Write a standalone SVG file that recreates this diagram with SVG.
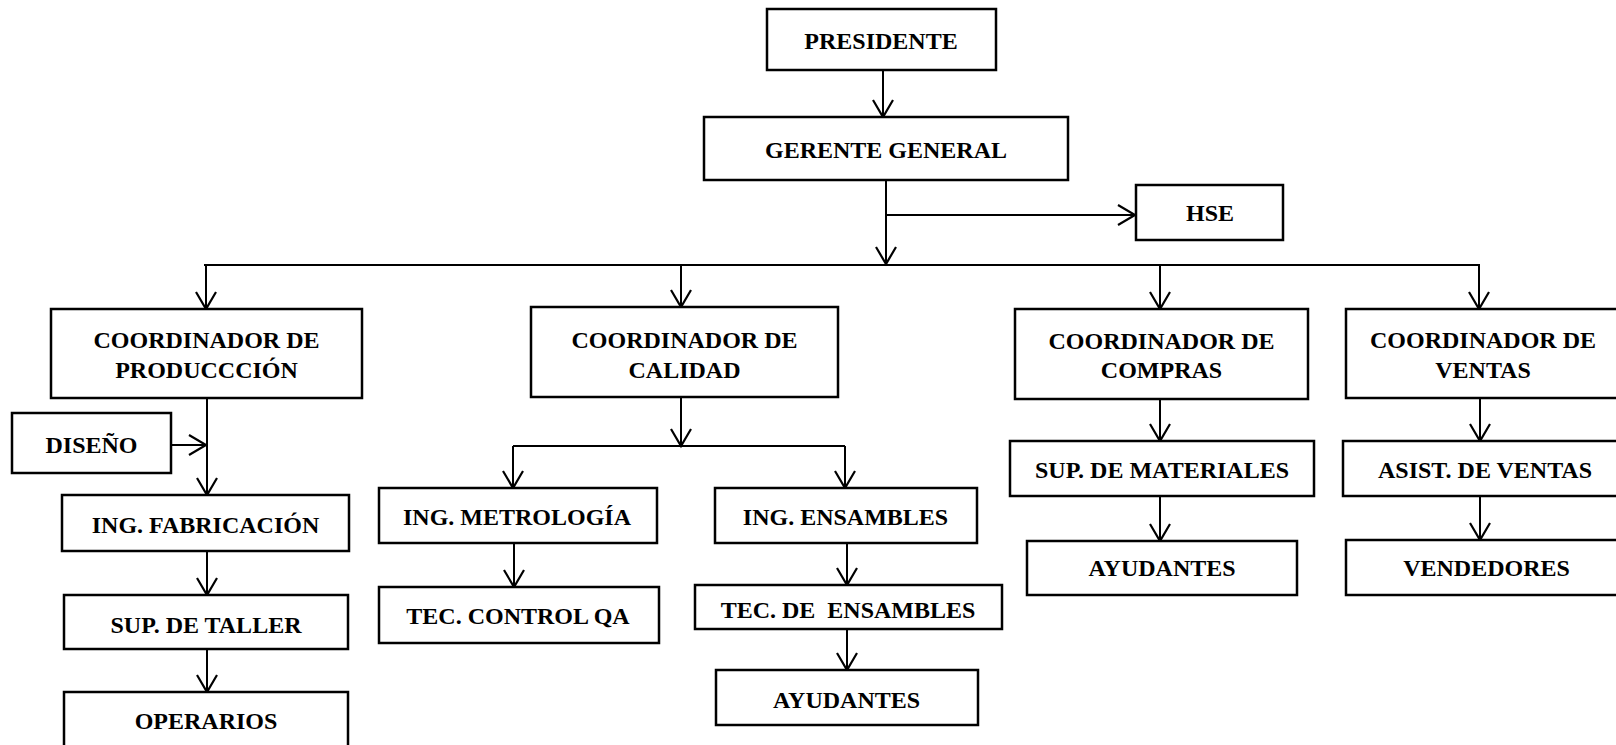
<svg xmlns="http://www.w3.org/2000/svg" width="1616" height="745" viewBox="0 0 1616 745">
  <style>
    .box { fill: #ffffff; stroke: #000000; stroke-width: 2.5; }
    .lbl { font-family: "Liberation Serif", "Times New Roman", serif; font-weight: bold; font-size: 24px; fill: #000000; text-anchor: middle; }
    .con { fill: none; stroke: #000000; stroke-width: 2; }
  </style>
  <defs>
    <marker id="arr" viewBox="-20 -12 24 24" refX="0" refY="0" markerWidth="24" markerHeight="24" markerUnits="userSpaceOnUse" orient="auto" overflow="visible">
      <path d="M -17,-10 L 0,0 L -17,10" fill="none" stroke="#000000" stroke-width="2.2" stroke-linejoin="miter"/>
    </marker>
  </defs>
  <rect width="1616" height="745" fill="#ffffff"/>

  <!-- connectors -->
  <g id="connectors" class="con">
    <line x1="883" y1="70" x2="883" y2="117" marker-end="url(#arr)"/>
    <line x1="886" y1="180" x2="886" y2="264" marker-end="url(#arr)"/>
    <line x1="886" y1="215" x2="1135" y2="215" marker-end="url(#arr)"/>
    <line x1="204" y1="265" x2="1480" y2="265"/>
    <line x1="206" y1="265" x2="206" y2="309" marker-end="url(#arr)"/>
    <line x1="681" y1="265" x2="681" y2="307" marker-end="url(#arr)"/>
    <line x1="1160" y1="265" x2="1160" y2="309" marker-end="url(#arr)"/>
    <line x1="1479" y1="265" x2="1479" y2="309" marker-end="url(#arr)"/>
    <!-- production chain -->
    <line x1="207" y1="398" x2="207" y2="495" marker-end="url(#arr)"/>
    <line x1="171" y1="445" x2="206" y2="445" marker-end="url(#arr)"/>
    <line x1="207" y1="551" x2="207" y2="595" marker-end="url(#arr)"/>
    <line x1="207" y1="649" x2="207" y2="692" marker-end="url(#arr)"/>
    <!-- quality chain -->
    <line x1="681" y1="397" x2="681" y2="446" marker-end="url(#arr)"/>
    <line x1="513" y1="446" x2="845" y2="446"/>
    <line x1="513" y1="446" x2="513" y2="488" marker-end="url(#arr)"/>
    <line x1="845" y1="446" x2="845" y2="488" marker-end="url(#arr)"/>
    <line x1="514" y1="543" x2="514" y2="587" marker-end="url(#arr)"/>
    <line x1="847" y1="543" x2="847" y2="585" marker-end="url(#arr)"/>
    <line x1="847" y1="629" x2="847" y2="670" marker-end="url(#arr)"/>
    <!-- purchasing chain -->
    <line x1="1160" y1="399" x2="1160" y2="441" marker-end="url(#arr)"/>
    <line x1="1160" y1="496" x2="1160" y2="541" marker-end="url(#arr)"/>
    <!-- sales chain -->
    <line x1="1480" y1="398" x2="1480" y2="441" marker-end="url(#arr)"/>
    <line x1="1480" y1="496" x2="1480" y2="540" marker-end="url(#arr)"/>
  </g>

  <g id="presidente">
    <rect class="box" x="767" y="9" width="229" height="61"/>
    <text class="lbl" x="881" y="49">PRESIDENTE</text>
  </g>
  <g id="gerente-general">
    <rect class="box" x="704" y="117" width="364" height="63"/>
    <text class="lbl" x="886" y="158">GERENTE GENERAL</text>
  </g>
  <g id="hse">
    <rect class="box" x="1136" y="185" width="147" height="55"/>
    <text class="lbl" x="1210" y="221">HSE</text>
  </g>

  <g id="coord-produccion">
    <rect class="box" x="51" y="309" width="311" height="89"/>
    <text class="lbl" x="206.5" y="348">COORDINADOR DE</text>
    <text class="lbl" x="206.5" y="378">PRODUCCCIÓN</text>
  </g>
  <g id="diseno">
    <rect class="box" x="12" y="413" width="159" height="60"/>
    <text class="lbl" x="91.5" y="453">DISEÑO</text>
  </g>
  <g id="ing-fabricacion">
    <rect class="box" x="62" y="495" width="287" height="56"/>
    <text class="lbl" x="205.5" y="533">ING. FABRICACIÓN</text>
  </g>
  <g id="sup-taller">
    <rect class="box" x="64" y="595" width="284" height="54"/>
    <text class="lbl" x="206" y="632.5">SUP. DE TALLER</text>
  </g>
  <g id="operarios">
    <rect class="box" x="64" y="692" width="284" height="70"/>
    <text class="lbl" x="206" y="729">OPERARIOS</text>
  </g>

  <g id="coord-calidad">
    <rect class="box" x="531" y="307" width="307" height="90"/>
    <text class="lbl" x="684.5" y="347.5">COORDINADOR DE</text>
    <text class="lbl" x="684.5" y="377.5">CALIDAD</text>
  </g>
  <g id="ing-metrologia">
    <rect class="box" x="379" y="488" width="278" height="55"/>
    <text class="lbl" x="517" y="525">ING. METROLOGÍA</text>
  </g>
  <g id="tec-control-qa">
    <rect class="box" x="379" y="587" width="280" height="56"/>
    <text class="lbl" x="518" y="624">TEC. CONTROL QA</text>
  </g>
  <g id="ing-ensambles">
    <rect class="box" x="715" y="488" width="262" height="55"/>
    <text class="lbl" x="845.5" y="525">ING. ENSAMBLES</text>
  </g>
  <g id="tec-ensambles">
    <rect class="box" x="695" y="585" width="307" height="44"/>
    <text class="lbl" x="848" y="617.5" xml:space="preserve">TEC. DE  ENSAMBLES</text>
  </g>
  <g id="ayudantes-calidad">
    <rect class="box" x="716" y="670" width="262" height="55"/>
    <text class="lbl" x="846.5" y="707.5">AYUDANTES</text>
  </g>

  <g id="coord-compras">
    <rect class="box" x="1015" y="309" width="293" height="90"/>
    <text class="lbl" x="1161.5" y="348.5">COORDINADOR DE</text>
    <text class="lbl" x="1161.5" y="377.5">COMPRAS</text>
  </g>
  <g id="sup-materiales">
    <rect class="box" x="1010" y="441" width="304" height="55"/>
    <text class="lbl" x="1162" y="478">SUP. DE MATERIALES</text>
  </g>
  <g id="ayudantes-compras">
    <rect class="box" x="1027" y="541" width="270" height="54"/>
    <text class="lbl" x="1162" y="576">AYUDANTES</text>
  </g>

  <g id="coord-ventas">
    <rect class="box" x="1346" y="309" width="290" height="89"/>
    <text class="lbl" x="1483" y="348">COORDINADOR DE</text>
    <text class="lbl" x="1483" y="377.5">VENTAS</text>
  </g>
  <g id="asist-ventas">
    <rect class="box" x="1343" y="441" width="293" height="55"/>
    <text class="lbl" x="1485" y="478">ASIST. DE VENTAS</text>
  </g>
  <g id="vendedores">
    <rect class="box" x="1346" y="540" width="290" height="55"/>
    <text class="lbl" x="1486.5" y="576">VENDEDORES</text>
  </g>
</svg>
